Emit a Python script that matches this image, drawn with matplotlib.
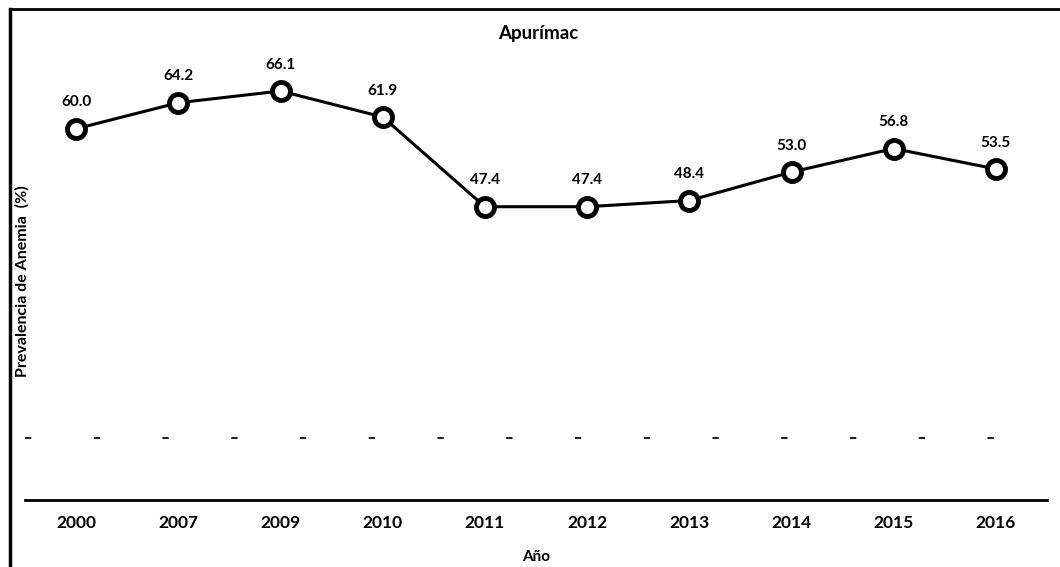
import matplotlib.pyplot as plt
from matplotlib.lines import Line2D

anios = ["2000", "2007", "2009", "2010", "2011", "2012", "2013", "2014", "2015", "2016"]
prevalencia = [60.0, 64.2, 66.1, 61.9, 47.4, 47.4, 48.4, 53.0, 56.8, 53.5]

plt.rcParams["font.family"] = ["Lato", "DejaVu Sans"]

fig = plt.figure(figsize=(10.6, 5.67), dpi=100)
ax = fig.add_axes([25 / 1060, 67 / 567, 1022 / 1060, 495 / 567])

x = range(len(anios))
ax.plot(x, prevalencia, color="black", lw=2.2, marker="o", ms=13,
        mfc="white", mec="black", mew=3.5, zorder=3)
for i, v in zip(x, prevalencia):
    ax.annotate(f"{v:.1f}", (i, v), xytext=(0, 14), textcoords="offset points",
                ha="center", va="bottom", fontsize=11, fontweight="bold")

# restos de la línea de cuadrícula en 10
ax.axhline(10, color="#222222", lw=1.5, ls=(0, (3, 30)), zorder=1)

ax.set_xlim(-0.5, len(anios) - 0.5)
ax.set_ylim(0, 80)
ax.set_xticks(list(x))
ax.set_xticklabels(anios, fontsize=12.5, fontweight="bold")
ax.tick_params(axis="x", length=0, pad=11)
ax.set_yticks([])
for s in ["top", "left", "right"]:
    ax.spines[s].set_visible(False)
ax.spines["bottom"].set_linewidth(2)

fig.text(538 / 1060, 1 - 33 / 567, "Apurímac", ha="center", va="center",
         fontsize=13.5, fontweight="bold")
fig.text(536 / 1060, 1 - 557 / 567, "Año", ha="center", va="center",
         fontsize=11, fontweight="bold")
fig.text(22 / 1060, 1 - 281 / 567, "Prevalencia de Anemia  (%)", rotation=90,
         ha="center", va="center", fontsize=11.5, fontweight="bold")

# marco exterior del gráfico
fig.add_artist(Line2D([10 / 1060, 10 / 1060], [0, 1 - 9 / 567],
                      transform=fig.transFigure, color="black", lw=2.5))
fig.add_artist(Line2D([10 / 1060, 1], [1 - 9 / 567, 1 - 9 / 567],
                      transform=fig.transFigure, color="black", lw=2))

fig.savefig("out.png", dpi=100)
